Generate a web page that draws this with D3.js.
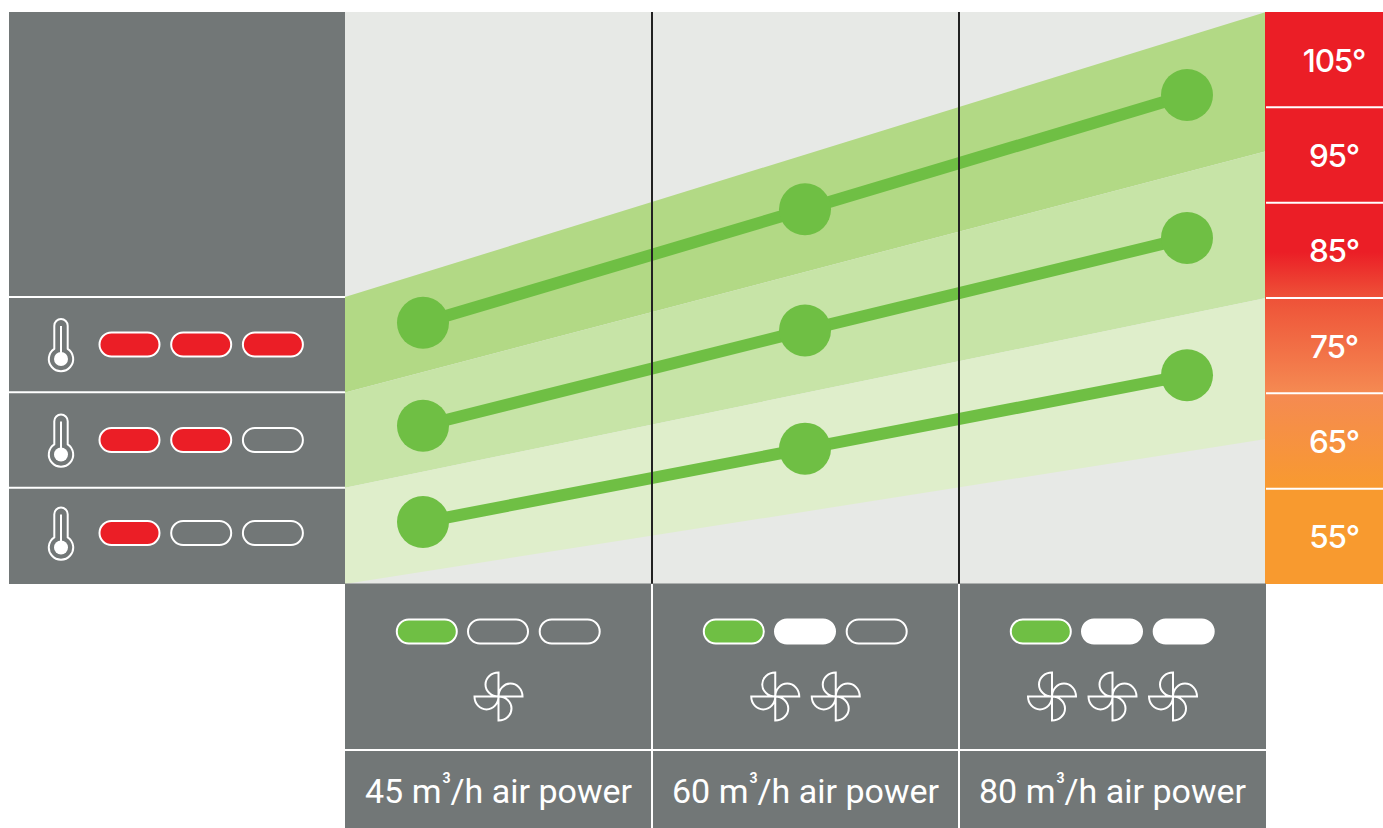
<!DOCTYPE html>
<html><head><meta charset="utf-8">
<script src="https://cdn.jsdelivr.net/npm/d3@7"></script>
<style>html,body{margin:0;padding:0;background:#fff;overflow:hidden}svg{display:block}text{font-family:Roboto,Inter,sans-serif;fill:#fff}</style>
</head><body><svg id="c" width="1383" height="828"></svg>
<script>
const temps = [105, 95, 85, 75, 65, 55];
const airPower = [45, 60, 80];
const columnLabels = ["/h air power", "/h air power", "/h air power"];
const heatLevels = [3, 2, 1];
const fanLevels = [1, 2, 3];
const seriesHigh = [77.4, 89.3, 101.3];
const seriesMid = [66.6, 76.6, 86.3];
const seriesLow = [56.5, 64.2, 71.9];
const bandEdgesLeft = [80.1, 70.1, 60.1, 50];
const bandEdgesRight = [110, 95.4, 80, 65.2];
const bandColors = ["#b2d985", "#c7e4a7", "#dfeecb"];

const GREY = "#727777", GREEN = "#6fbf44", RED = "#eb1e26", WHITE = "#fff";
const svg = d3.select("#c");
const defs = svg.append("defs");

const y = d3.scaleLinear().domain([50, 110]).range([584, 12]);
const xCol = d3.scaleBand().domain(airPower).range([345, 1266]);
const xPt = d3.scalePoint().domain(airPower).range([423, 1187]);
const xEdge = d3.scaleLinear().domain([0, 1]).range([345, 1266]);
const rowBand = d3.scaleBand().domain(temps).range([12, 584]);

svg.append("rect").attr("x", 345).attr("y", 12).attr("width", 921).attr("height", 572).attr("fill", "#e7e9e6");

const area = d3.area().x(d => xEdge(d.t)).y0(d => y(d.lo)).y1(d => y(d.hi));
bandColors.forEach((c, i) => {
  svg.append("path").attr("fill", c).attr("d", area([
    {t: 0, hi: bandEdgesLeft[i], lo: bandEdgesLeft[i + 1]},
    {t: 1, hi: bandEdgesRight[i], lo: bandEdgesRight[i + 1]}
  ]));
});

const line = d3.line().x((d, i) => xPt(airPower[i])).y(d => y(d));
[seriesHigh, seriesMid, seriesLow].forEach(s => {
  svg.append("path").attr("d", line(s)).attr("fill", "none").attr("stroke", GREEN).attr("stroke-width", 12);
  svg.selectAll(null).data(s).enter().append("circle")
    .attr("cx", (d, i) => xPt(airPower[i])).attr("cy", d => y(d)).attr("r", 26).attr("fill", GREEN);
});

airPower.slice(1).forEach(a => {
  svg.append("line").attr("x1", xCol(a)).attr("x2", xCol(a)).attr("y1", 12).attr("y2", 584)
    .attr("stroke", "#222").attr("stroke-width", 2);
});

function pill(g, cx, cy, fill) {
  g.append("rect").attr("x", cx - 30).attr("y", cy - 12).attr("width", 60).attr("height", 24).attr("rx", 12)
    .attr("fill", fill).attr("stroke", WHITE).attr("stroke-width", 2);
}

svg.append("rect").attr("x", 9).attr("y", 12).attr("width", 336).attr("height", 572).attr("fill", GREY);
const rowY = [344.5, 440, 533];
heatLevels.forEach((lvl, r) => {
  const ruleY = rowBand(temps[r + 3]) - 1;
  svg.append("line").attr("x1", 9).attr("x2", 345).attr("y1", ruleY).attr("y2", ruleY).attr("stroke", WHITE).attr("stroke-width", 2);
  const g = svg.append("g");
  [0, 1, 2].forEach(i => pill(g, 129.5 + i * 71.7, rowY[r], i < lvl ? RED : "none"));
  const t = svg.append("g").attr("transform", `translate(61,${rowY[r] + 14.5})`);
  const R = 12.2, w = 6.7, a = Math.asin(w / R), top = -40 + 6.7;
  const yJoin = -R * Math.cos(a);
  t.append("path").attr("fill", "none").attr("stroke", WHITE).attr("stroke-width", 2)
    .attr("d", `M${-w},${yJoin} L${-w},${top} A${w},${w} 0 0 1 ${w},${top} L${w},${yJoin} A${R},${R} 0 1 1 ${-w},${yJoin} Z`);
  t.append("line").attr("x1", 0).attr("x2", 0).attr("y1", -33).attr("y2", -5).attr("stroke", WHITE).attr("stroke-width", 2);
  t.append("circle").attr("r", 7).attr("fill", WHITE);
});

const gradId = "heat";
const grad = defs.append("linearGradient").attr("id", gradId).attr("gradientUnits", "userSpaceOnUse")
  .attr("x1", 0).attr("x2", 0).attr("y1", 12).attr("y2", 584);
[[12, RED], [252, RED], [298, "#ee5238"], [393, "#f58a52"], [489, "#f89a2f"], [584, "#f89a2f"]].forEach(([p, c]) => {
  grad.append("stop").attr("offset", (p - 12) / 572).attr("stop-color", c);
});
svg.append("rect").attr("x", 1265).attr("y", 12).attr("width", 118).attr("height", 572).attr("fill", `url(#${gradId})`);
temps.forEach((t, i) => {
  const top = rowBand(t);
  if (i > 0) svg.append("line").attr("x1", 1266).attr("x2", 1383).attr("y1", top).attr("y2", top).attr("stroke", WHITE).attr("stroke-width", 2);
  svg.append("text").attr("x", 1334).attr("y", top + rowBand.bandwidth() / 2 + 12).attr("text-anchor", "middle")
    .style("font-family", "Inter,Roboto,sans-serif")
    .attr("font-size", 31.5).attr("font-weight", 450).attr("letter-spacing", -1.2).text(t + "°");
});

svg.append("rect").attr("x", 345).attr("y", 583.5).attr("width", 921).attr("height", 244.5).attr("fill", GREY);
svg.append("line").attr("x1", 345).attr("x2", 1266).attr("y1", 750).attr("y2", 750).attr("stroke", WHITE).attr("stroke-width", 2);
airPower.slice(1).forEach(a => {
  svg.append("line").attr("x1", xCol(a)).attr("x2", xCol(a)).attr("y1", 584).attr("y2", 828).attr("stroke", WHITE).attr("stroke-width", 2);
});
const fanPath = "M0,0 L0,-24 A13,12 0 0 0 0,0 L24,0 A12,13 0 0 0 0,0 L0,24 A13,12 0 0 0 0,0 L-24,0 A12,13 0 0 0 0,0 Z";
airPower.forEach((a, c) => {
  const cx = xCol(a) + xCol.bandwidth() / 2;
  const g = svg.append("g");
  [-1, 0, 1].forEach((o, i) => pill(g, cx + o * 71.7 - 0.5 + (i === 0 ? 0.5 : 0), 631.5, i === 0 ? GREEN : (i < fanLevels[c] ? WHITE : "none")));
  const n = fanLevels[c];
  d3.range(n).forEach(i => {
    g.append("path").attr("transform", `translate(${cx + (i - (n - 1) / 2) * 60.5},696.5)`)
      .attr("d", fanPath).attr("fill", "none").attr("stroke", WHITE).attr("stroke-width", 2);
  });
  const tx = g.append("text").attr("x", cx).attr("y", 803).attr("text-anchor", "middle").attr("font-size", 34);
  tx.append("tspan").text(a + " m");
  tx.append("tspan").attr("dy", -20).attr("dx", 1).attr("font-size", 14).attr("font-weight", 700).text("3");
  tx.append("tspan").attr("dy", 20).attr("dx", 0).text(columnLabels[c]);
});
</script></body></html>
